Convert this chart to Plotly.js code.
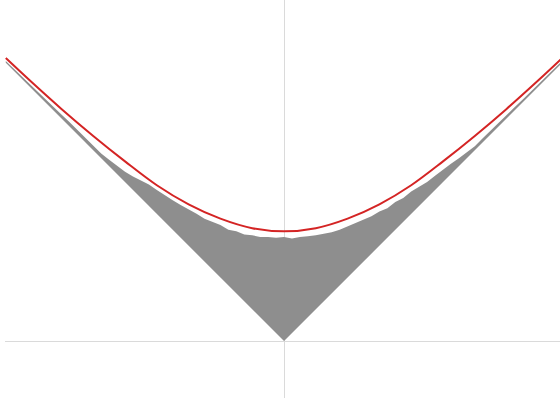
<!DOCTYPE html>
<html>
<head>
<meta charset="utf-8">
<script src="https://cdn.plot.ly/plotly-3.0.1.min.js"></script>
<style>html,body{margin:0;padding:0;background:#fff;}#chart{width:560px;height:400px;}</style>
</head>
<body>
<div id="chart"></div>
<script>
// Red smooth curve
const redX = [-1.75,-1.6,-1.4,-1.2,-1.0,-0.8,-0.6,-0.4,-0.2,0,0.2,0.4,0.6,0.8,1.0,1.2,1.4,1.6,1.75];
const redY = [1.78,1.64,1.46,1.29,1.13,0.98,0.86,0.77,0.71,0.69,0.71,0.77,0.86,0.98,1.13,1.29,1.46,1.64,1.78];

// Upper (noisy) edge of the grey region
const greyTopX = [-1.75,-1.70,-1.65,-1.60,-1.55,-1.50,-1.45,-1.40,-1.35,-1.30,-1.25,-1.20,-1.15,-1.10,-1.05,-1.00,-0.95,-0.90,-0.85,-0.80,-0.75,-0.70,-0.65,-0.60,-0.55,-0.50,-0.45,-0.40,-0.35,-0.30,-0.25,-0.20,-0.15,-0.10,-0.05,0.00,0.05,0.10,0.15,0.20,0.25,0.30,0.35,0.40,0.45,0.50,0.55,0.60,0.65,0.70,0.75,0.80,0.85,0.90,0.95,1.00,1.05,1.10,1.15,1.20,1.25,1.30,1.35,1.40,1.45,1.50,1.55,1.60,1.65,1.70,1.75];
const greyTopY = [1.762,1.713,1.664,1.615,1.567,1.52,1.472,1.425,1.378,1.33,1.28,1.23,1.18,1.14,1.10,1.065,1.035,1.01,0.985,0.95,0.915,0.885,0.855,0.83,0.80,0.77,0.75,0.73,0.70,0.69,0.67,0.665,0.655,0.655,0.65,0.655,0.645,0.655,0.66,0.665,0.675,0.685,0.70,0.72,0.745,0.76,0.785,0.815,0.835,0.875,0.90,0.94,0.97,1.00,1.04,1.08,1.115,1.15,1.185,1.225,1.275,1.325,1.372,1.42,1.47,1.518,1.567,1.615,1.664,1.712,1.762];

// Lower edge of the grey region (the V)
const vX = [1.75, 0, -1.75];
const vY = [1.75, 0, 1.75];

const greyPoly = {
  x: greyTopX.concat(vX),
  y: greyTopY.concat(vY),
  type: 'scatter', mode: 'lines',
  fill: 'toself', fillcolor: '#8e8e8e',
  line: {width: 0, color: '#8e8e8e'},
  hoverinfo: 'skip'
};
const red = {
  x: redX, y: redY, type: 'scatter', mode: 'lines',
  line: {color: 'rgb(212,36,36)', width: 2, shape: 'spline'}
};

const axis = {
  showgrid: false, zeroline: true, zerolinecolor: '#dadada', zerolinewidth: 1,
  showticklabels: false, ticks: '', showline: false, layer: 'above traces', fixedrange: true
};
const layout = {
  width: 560, height: 400,
  margin: {l: 5, r: 0, t: 0, b: 2, pad: 0},
  paper_bgcolor: '#ffffff', plot_bgcolor: '#ffffff',
  showlegend: false,
  xaxis: Object.assign({}, axis, {range: [-1.755, 1.736]}),
  yaxis: Object.assign({}, axis, {range: [-0.358, 2.145]})
};
Plotly.newPlot('chart', [greyPoly, red], layout, {displayModeBar: false, staticPlot: true});
</script>
</body>
</html>
